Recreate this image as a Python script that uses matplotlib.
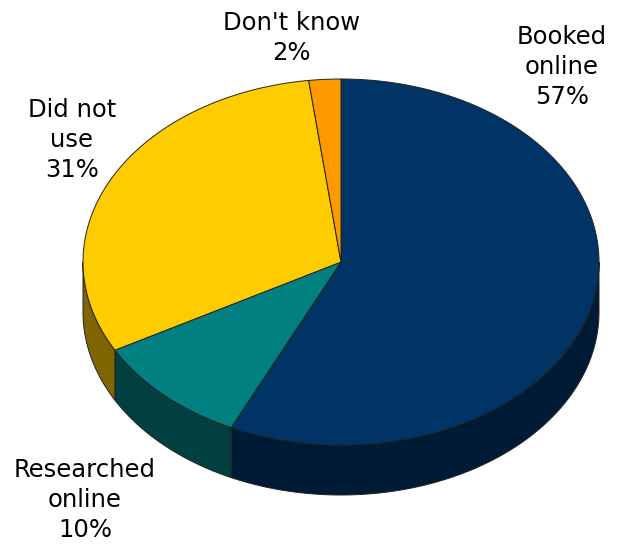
import numpy as np
import matplotlib.pyplot as plt
from matplotlib.patches import Polygon

# 데이터
labels = ['Booked\nonline\n57%', 'Researched\nonline\n10%', 'Did not\nuse\n31%', "Don't know\n2%"]
values = [57, 10, 31, 2]
top_colors = ['#003366', '#008080', '#FFCC00', '#FF9900']
side_colors = ['#001B36', '#004040', '#806600', '#805000']
label_pos = [(562, 67), (85, 500), (72, 140), (292, 38)]

# 파이 모양 설정
cx, cy = 341, 262
rx, ry = 258, 183
depth = 50

fig = plt.figure(figsize=(6.24, 5.44), dpi=100)
fig.set_facecolor('white')
ax = fig.add_axes([0, 0, 1, 1])
ax.set_xlim(0, 624)
ax.set_ylim(544, 0)
ax.axis('off')


def arc(t0, t1, dy=0):
    t = np.radians(np.linspace(t0, t1, 200))
    return np.column_stack([cx + rx * np.cos(t), cy - ry * np.sin(t) + dy])


# 각 조각 각도 (12시 방향부터 시계방향)
ends = 90 - np.cumsum(values) / sum(values) * 360
starts = np.concatenate([[90], ends[:-1]])

# 옆면 먼저
for s, e, c in zip(starts, ends, side_colors):
    a, b = max(e, -180), min(s, 0)
    if a < b:
        top = arc(b, a)
        bot = arc(a, b, depth)
        ax.add_patch(Polygon(np.vstack([top, bot]), closed=True, facecolor=c,
                             edgecolor='#222222', lw=0.7, zorder=1))

# 윗면
for s, e, c in zip(starts, ends, top_colors):
    pts = np.vstack([[cx, cy], arc(s, e)])
    ax.add_patch(Polygon(pts, closed=True, facecolor=c, edgecolor='#222222',
                         lw=0.7, zorder=2))

# 라벨
for (x, y), t in zip(label_pos, labels):
    ax.text(x, y, t, ha='center', va='center', fontsize=17.5,
            family='DejaVu Sans', linespacing=1.3, color='black')

fig.savefig('out.png', dpi=100)
plt.close()
